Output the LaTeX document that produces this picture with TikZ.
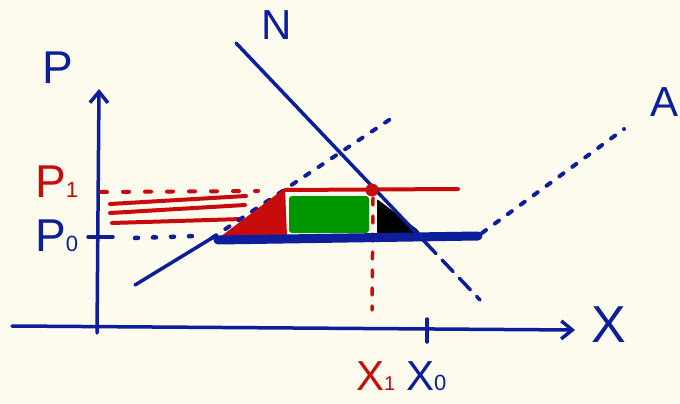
\documentclass[tikz,border=0pt]{standalone}
\usepackage{fontspec}
\setmainfont{Liberation Sans}
\usetikzlibrary{arrows.meta}
\definecolor{bgc}{RGB}{253,251,238}
\definecolor{pblue}{RGB}{12,30,155}
\definecolor{pred}{RGB}{200,12,12}
\definecolor{pgreen}{RGB}{0,150,0}
\tikzset{
  ax/.style={pblue, line width=3.5pt, line cap=round},
  curve/.style={pblue, line width=3.5pt, line cap=round},
  bluedots/.style={pblue, line width=4.5pt, line cap=round, dash pattern=on 3pt off 15pt},
  bluedash/.style={pblue, line width=4pt, line cap=round, dash pattern=on 5pt off 11pt},
  demdash/.style={pblue, line width=3.5pt, line cap=round, dash pattern=on 16pt off 9pt},
  redline/.style={pred, line width=4pt, line cap=round},
  reddots/.style={pred, line width=4pt, line cap=round, dash pattern=on 6pt off 16pt},
  redvdash/.style={pred, line width=3.5pt, line cap=round, dash pattern=on 7pt off 11pt},
  thickblue/.style={pblue, line width=9pt, line cap=round},
  lbl/.style={inner sep=0pt, anchor=base west},
  bigtxt/.style={font=\fontsize{46}{46}\selectfont},
  barb/.style={-{Straight Barb[length=11pt,width=18pt]}}
}
\begin{document}
\begin{tikzpicture}[x=1pt,y=-1pt]
\useasboundingbox (0,0) rectangle (680,404);
\fill[bgc] (0,0) rectangle (680,404);
\clip (0,0) rectangle (680,404);

% coordinates
\coordinate (yb) at (97,333);
\coordinate (yt) at (99,89);
\coordinate (xl) at (12,326);
\coordinate (xr) at (575,330);
\coordinate (tkPa) at (88,237);
\coordinate (tkPb) at (113,237);
\coordinate (tkXa) at (427,319);
\coordinate (tkXb) at (427,342);

\coordinate (s0) at (135,285);
\coordinate (s1) at (212,238);
\coordinate (s2) at (392,118);
\coordinate (a0) at (482,233);
\coordinate (a1) at (624,129);

\coordinate (d0) at (236,43);
\coordinate (d1) at (425,242);
\coordinate (d2) at (480,300);

\coordinate (p1a) at (101,192);
\coordinate (p1b) at (258,191);
\coordinate (p0a) at (135,238);
\coordinate (p0b) at (196,236);

\coordinate (h1a) at (110,204);
\coordinate (h1b) at (246,196);
\coordinate (h2a) at (110,213);
\coordinate (h2b) at (245,205);
\coordinate (h3a) at (112,223);
\coordinate (h3b) at (242,219);

\coordinate (e) at (372,190);
\coordinate (p1l) at (285,190);
\coordinate (p1r) at (458,189);
\coordinate (vb) at (372,310);
\coordinate (vt) at (373,198);

\coordinate (tb0) at (218,240);
\coordinate (tb1) at (478,236);

% axes
\draw[ax, barb] (yb) -- (yt);
\draw[ax, barb] (xl) -- (xr);
\draw[ax] (tkPa) -- (tkPb);
\draw[ax] (tkXa) -- (tkXb);

% price guide lines
\draw[reddots] (p1a) -- (p1b);
\draw[bluedots] (p0a) -- (p0b);
\draw[redline] (h1a) -- (h1b);
\draw[redline] (h2a) -- (h2b);
\draw[redline] (h3a) -- (h3b);

% supply
\draw[curve] (s0) -- (s1);
\draw[bluedash] (s1) -- (s2);
\draw[bluedash] (a0) -- (a1);

% areas
\fill[pred, rounded corners=1pt] (220,237) -- (285,188) -- (287,236) -- cycle;
\fill[pgreen, rounded corners=3pt] (289,196) rectangle (369,233);
\fill[black, rounded corners=1pt] (377,199) -- (377,234) -- (420,234) -- (418,230) -- cycle;

% red vertical dashed
\draw[redvdash] (vt) -- (vb);

% P1 line and equilibrium
\draw[redline] (p1l) -- (p1r);

% thick world price line
\draw[thickblue] (tb0) -- (tb1);

% demand
\draw[curve] (d0) -- (d1);
\draw[demdash] (d1) -- (d2);

\fill[pred] (e) circle (6.5pt);

% labels
\node[lbl, bigtxt, pblue] (lP) at (42,83) {P};
\node[lbl, pblue, font=\fontsize{42}{42}\selectfont] (lN) at (261,40) {N};
\node[lbl, pblue, font=\fontsize{52}{52}\selectfont] (lX) at (591,342) {X};
\node[inner sep=0pt, anchor=base east, pblue, font=\fontsize{42}{42}\selectfont] (lA) at (679,116) {A};
\node[lbl, bigtxt, pred] (lP1) at (35,197) {P{\fontsize{22}{22}\selectfont 1}};
\node[lbl, bigtxt, pblue] (lP0) at (35,251) {P{\fontsize{22}{22}\selectfont 0}};
\node[lbl, pred, font=\fontsize{42}{42}\selectfont] (lX1) at (356,390) {X{\fontsize{20}{20}\selectfont 1}};
\node[lbl, pblue, font=\fontsize{42}{42}\selectfont] (lX0) at (406,390) {X{\fontsize{22}{22}\selectfont 0}};
\end{tikzpicture}
\end{document}
